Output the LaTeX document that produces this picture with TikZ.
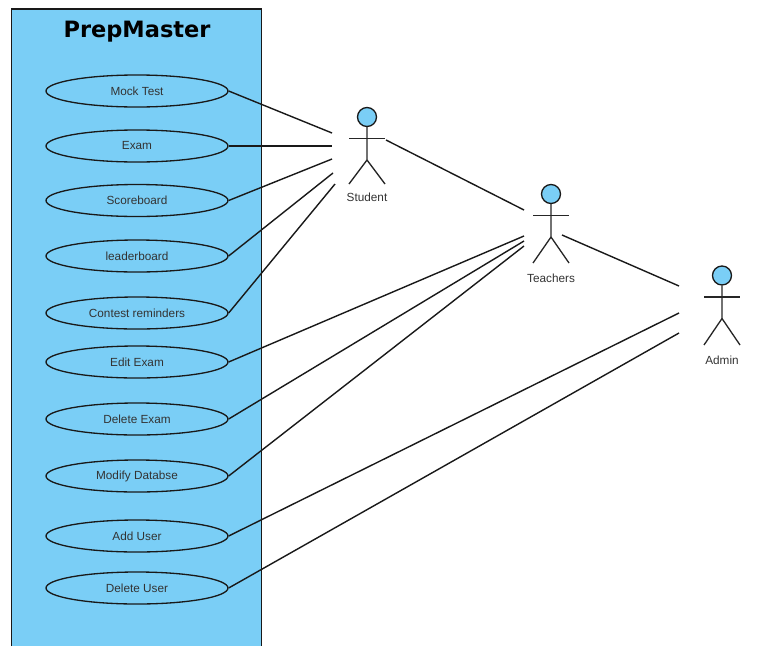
\documentclass[tikz,border=0pt]{standalone}
\usepackage{fontspec}
\setmainfont{Liberation Sans}
\newfontfamily\titlefont{DejaVu Sans}
\usepackage{tikz}
\usetikzlibrary{shapes.geometric,positioning,calc}
\definecolor{skyfill}{HTML}{7ACEF6}
\tikzset{ % Standard use case and actor style
    usecase/.style={ellipse, draw=black!90, line width=0.75pt, fill=skyfill, minimum width=182*0.02cm, minimum height=32*0.02cm, inner sep=0pt, text=black!80, font=\fontsize{6.7}{8}\selectfont},
    head/.style={circle, draw=black!90, line width=0.75pt, fill=skyfill, minimum size=19*0.02cm, inner sep=0pt},
    actorname/.style={text=black!80, inner sep=0pt, font=\fontsize{6.7}{8}\selectfont},
    limb/.style={draw=black!85, line width=0.75pt},
    line/.style={draw=black!90, line width=0.8pt}
}
% head, arms, body and legs of one actor, #1 is the name prefix, #5 the leg length, #6 the label offset
\newcommand{\stickman}[6]{
	\node[head] (#1) at (#2,#3) {};
	\node[actorname] (#1name) at (#2,#3+#6) {#4};
	\coordinate (#1hip) at (#2,#3+43);
	\coordinate (#1larm) at (#2-18,#3+21.5);
	\coordinate (#1rarm) at (#2+18,#3+21.5);
	\coordinate (#1lleg) at (#2-18,#3+#5);
	\coordinate (#1rleg) at (#2+18,#3+#5);
	\draw[limb] (#1) -- (#1hip) -- (#1lleg);
	\draw[limb] (#1hip) -- (#1rleg);
	\draw[limb] (#1larm) -- (#1rarm);
}
\begin{document}
\begin{tikzpicture}[x=0.02cm, y=-0.02cm]
	\useasboundingbox (0,0) rectangle (760,646);
	%System box, open at the bottom edge
	\fill[skyfill] (11.5,9) rectangle (261.5,646);
	\draw[black!90, line width=0.75pt] (11.5,646) -- (11.5,9) -- (261.5,9) -- (261.5,646);
	\node[font=\titlefont\fontsize{12.8}{16}\bfseries\selectfont] (title) at (137,32) {PrepMaster};
	%Use cases
	\node[usecase] (mock)    at (137,91)  {Mock Test};
	\node[usecase] (exam)    at (137,146) {Exam};
	\node[usecase] (score)   at (137,200.5) {Scoreboard};
	\node[usecase] (leader)  at (137,256) {leaderboard};
	\node[usecase] (contest) at (137,313) {Contest reminders};
	\node[usecase] (edit)    at (137,362) {Edit Exam};
	\node[usecase] (delexam) at (137,419) {Delete Exam};
	\node[usecase] (modify)  at (137,476) {Modify Databse};
	\node[usecase] (adduser) at (137,536) {Add User};
	\node[usecase] (deluser) at (137,588) {Delete User};
	%Actors
	\stickman{student}{367}{117}{Student}{67}{80.5}
	\stickman{teacher}{551}{194}{Teachers}{69}{84}
	\stickman{admin}{722}{275.5}{Admin}{69.5}{84.5}
	%Free line ends
	\coordinate (s1) at (332,133);
	\coordinate (s2) at (332,146);
	\coordinate (s3) at (332,159);
	\coordinate (s4) at (333,173);
	\coordinate (s5) at (335,184);
	\coordinate (s6) at (386,140);
	\coordinate (t1) at (524,210);
	\coordinate (t2) at (524,236);
	\coordinate (t3) at (524,241);
	\coordinate (t4) at (524,246);
	\coordinate (t5) at (562,235);
	\coordinate (a1) at (679,286);
	\coordinate (a2) at (679,313);
	\coordinate (a3) at (679,333);
	%Connectors
	\draw [line] (mock.east) -- (s1);
	\draw [line] (exam.east) -- (s2);
	\draw [line] (score.east) -- (s3);
	\draw [line] (leader.east) -- (s4);
	\draw [line] (contest.east) -- (s5);
	\draw [line] (s6) -- (t1);
	\draw [line] (edit.east) -- (t2);
	\draw [line] (delexam.east) -- (t3);
	\draw [line] (modify.east) -- (t4);
	\draw [line] (t5) -- (a1);
	\draw [line] (adduser.east) -- (a2);
	\draw [line] (deluser.east) -- (a3);
\end{tikzpicture}
\end{document}
